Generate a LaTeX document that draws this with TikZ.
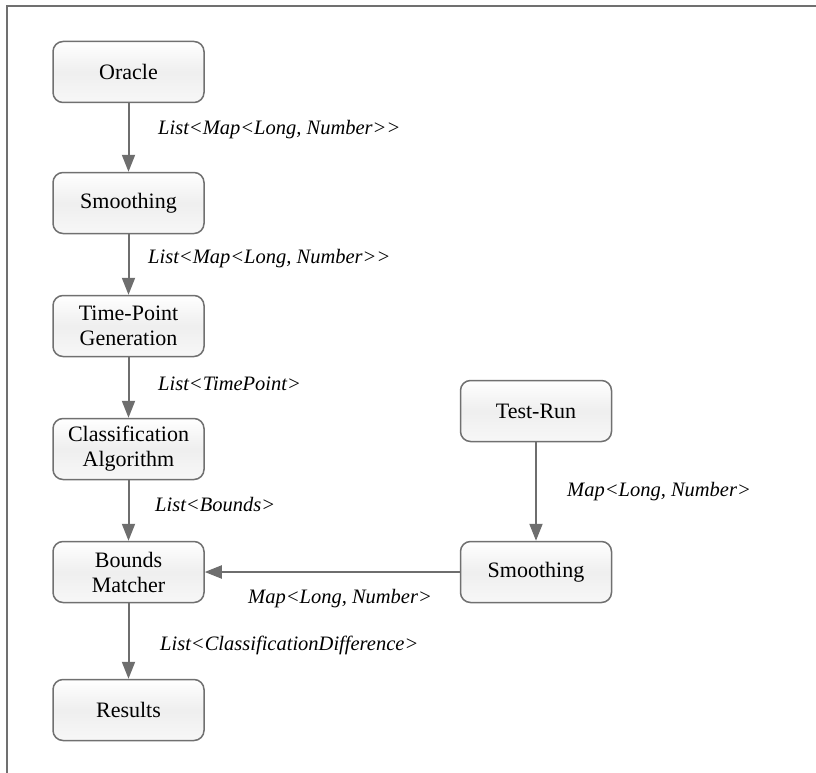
\documentclass[tikz,border=0pt]{standalone}
\usepackage{fontspec}
\setmainfont{Liberation Serif}
\usetikzlibrary{arrows.meta}
\definecolor{edgegray}{HTML}{6E6E6E}
\definecolor{boxgray}{HTML}{707070}
\tikzset{
  procbox/.style={draw=boxgray, line width=1.5pt, rounded corners=10pt,
    minimum width=151pt, minimum height=61pt, inner sep=0pt, align=center,
    top color=white, bottom color=gray!6, middle color=gray!13,
    font=\fontsize{22}{25}\selectfont},
  flow/.style={draw=edgegray, line width=2pt,
    -{Triangle[width=13pt,length=17pt]}},
  lbl/.style={anchor=west, inner sep=0pt, font=\fontsize{20.5}{24}\selectfont\itshape},
  frameline/.style={draw=boxgray, line width=2pt}
}
\begin{document}
\begin{tikzpicture}[x=1pt,y=-1pt]
\useasboundingbox (0,0) rectangle (816,773);
\coordinate (fa) at (7,773);
\coordinate (fb) at (7,6);
\coordinate (fc) at (816,6);
\draw[frameline] (fa) -- (fb) -- (fc);

\node[procbox] (oracle) at (128.5,72) {Oracle};
\node[procbox] (smooth1) at (128.5,203) {Smoothing};
\node[procbox] (tpg) at (128.5,326) {Time-Point\\Generation};
\node[procbox] (class) at (128.5,449) {Classification\\Algorithm};
\node[procbox] (bm) at (128.5,572) {Bounds\\Matcher};
\node[procbox] (results) at (128.5,710) {Results};
\node[procbox] (testrun) at (536,411) {Test-Run};
\node[procbox] (smooth2) at (536,572) {Smoothing};

\draw[flow] (oracle) -- (smooth1);
\draw[flow] (smooth1) -- (tpg);
\draw[flow] (tpg) -- (class);
\draw[flow] (class) -- (bm);
\draw[flow] (bm) -- (results);
\draw[flow] (testrun) -- (smooth2);
\draw[flow] (smooth2.west) -- (bm.east);

\node[lbl] (l1) at (158,130) {List<Map<Long, Number>{}>};
\node[lbl] (l2) at (148,259) {List<Map<Long, Number>{}>};
\node[lbl] (l3) at (158,384) {List<TimePoint>};
\node[lbl] (l4) at (155,505) {List<Bounds>};
\node[lbl] (l5) at (567,492) {Map<Long, Number>};
\node[lbl] (l6) at (248,599) {Map<Long, Number>};
\node[lbl] (l7) at (160,645) {List<ClassificationDifference>};
\end{tikzpicture}
\end{document}
